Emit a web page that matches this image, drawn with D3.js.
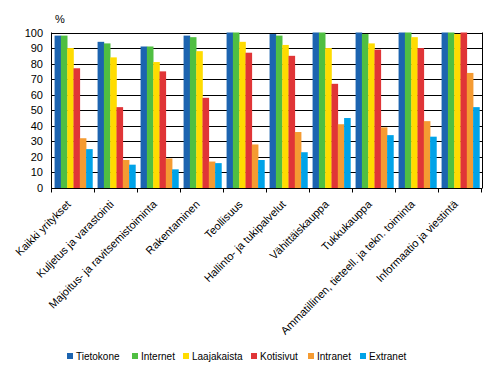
<!DOCTYPE html>
<html>
<head>
<meta charset="utf-8">
<script src="https://cdn.jsdelivr.net/npm/d3@7"></script>
<style>
  body { margin: 0; background: #fff; }
  text { font-family: Arial, "Liberation Sans", sans-serif; fill: #000; }
</style>
</head>
<body>
<svg id="chart" width="495" height="373"></svg>
<script>
var categories = ["Kaikki yritykset", "Kuljetus ja varastointi", "Majoitus- ja ravitsemistoiminta",
    "Rakentaminen", "Teollisuus", "Hallinto- ja tukipalvelut", "Vähittäiskauppa",
    "Tukkukauppa", "Ammatillinen, tieteell. ja tekn. toiminta", "Informaatio ja viestintä"];
var seriesNames = ["Tietokone", "Internet", "Laajakaista", "Kotisivut", "Intranet", "Extranet"];
var seriesColors = ["#1c64b0", "#50bf42", "#ffdc00", "#e03537", "#f59b32", "#00a3e8"];

var tietokone   = [98, 94, 91, 98, 100, 99, 100, 100, 100, 100];
var internet    = [98, 93, 91, 97, 100, 98, 100, 99, 100, 100];
var laajakaista = [90, 84, 81, 88, 94, 92, 90, 93, 97, 99];
var kotisivut   = [77, 52, 75, 58, 87, 85, 67, 89, 90, 100];
var intranet    = [32, 18, 19, 17, 28, 36, 41, 39, 43, 74];
var extranet    = [25, 15, 12, 16, 18, 23, 45, 34, 33, 52];
var yTicks = [0, 10, 20, 30, 40, 50, 60, 70, 80, 90, 100];

var values = [tietokone, internet, laajakaista, kotisivut, intranet, extranet];

var svg = d3.select("#chart");
var plotLeft = 52, plotRight = 482, plotTop = 32.5, plotBottom = 188;

var x0 = d3.scaleBand().domain(categories).range([plotLeft, plotRight]).paddingInner(0.12).paddingOuter(0.06);
var x1 = d3.scaleBand().domain(d3.range(seriesNames.length)).range([0, x0.bandwidth()]);
var y = d3.scaleLinear().domain([0, 100]).range([plotBottom, plotTop]);

// gridlines
svg.append("g").selectAll("line").data(yTicks.slice(1)).enter()
    .append("line")
    .attr("x1", plotLeft).attr("x2", plotRight)
    .attr("y1", d => Math.round(y(d)) + 0.5).attr("y2", d => Math.round(y(d)) + 0.5)
    .attr("stroke", "#000").attr("stroke-width", 1);

// bars
var groups = svg.append("g").selectAll("g").data(categories).enter()
    .append("g")
    .attr("transform", d => "translate(" + x0(d) + ",0)");
groups.selectAll("rect")
    .data((d, i) => values.map((s, j) => ({ s: j, v: s[i] })))
    .enter().append("rect")
    .attr("x", d => x1(d.s))
    .attr("width", x1.bandwidth() + 0.3)
    .attr("y", d => y(d.v))
    .attr("height", d => y(0) - y(d.v))
    .attr("fill", d => seriesColors[d.s]);

// axes frame
svg.append("line").attr("x1", plotLeft - 0.5).attr("x2", plotLeft - 0.5).attr("y1", y(100)).attr("y2", plotBottom)
    .attr("stroke", "#000");
svg.append("line").attr("x1", plotRight + 0.5).attr("x2", plotRight + 0.5).attr("y1", y(100)).attr("y2", plotBottom)
    .attr("stroke", "#000");
svg.append("line").attr("x1", plotLeft - 0.5).attr("x2", plotRight + 0.5).attr("y1", plotBottom + 0.5).attr("y2", plotBottom + 0.5)
    .attr("stroke", "#000");

// category ticks
var step = x0.step();
svg.append("g").selectAll("line").data(d3.range(categories.length + 1)).enter()
    .append("line")
    .attr("x1", d => Math.round(plotLeft + d * step) - 0.5)
    .attr("x2", d => Math.round(plotLeft + d * step) - 0.5)
    .attr("y1", plotBottom).attr("y2", plotBottom + 4.5)
    .attr("stroke", "#000");

// y labels
svg.append("g").selectAll("text").data(yTicks).enter()
    .append("text")
    .attr("x", 43).attr("y", d => y(d) + 4)
    .attr("text-anchor", "end")
    .attr("font-size", "11px")
    .text(d => d);

svg.append("text").attr("x", 55).attr("y", 23).attr("font-size", "11px").text("%");

// x labels
svg.append("g").selectAll("text").data(categories).enter()
    .append("text")
    .attr("transform", d => "translate(" + (x0(d) + x0.bandwidth() / 2 - 2) + "," + (plotBottom + 17) + ") rotate(-45)")
    .attr("text-anchor", "end")
    .attr("font-size", "11px")
    .text(d => d);

// legend
var legendX = [67, 132, 183, 251, 308, 360];
var legend = svg.append("g").selectAll("g").data(seriesNames).enter()
    .append("g")
    .attr("transform", (d, i) => "translate(" + legendX[i] + ",353)");
legend.append("rect").attr("width", 6).attr("height", 6).attr("fill", (d, i) => seriesColors[i]);
legend.append("text").attr("x", 9).attr("y", 7).attr("font-size", "10px").text(d => d);
</script>
</body>
</html>
